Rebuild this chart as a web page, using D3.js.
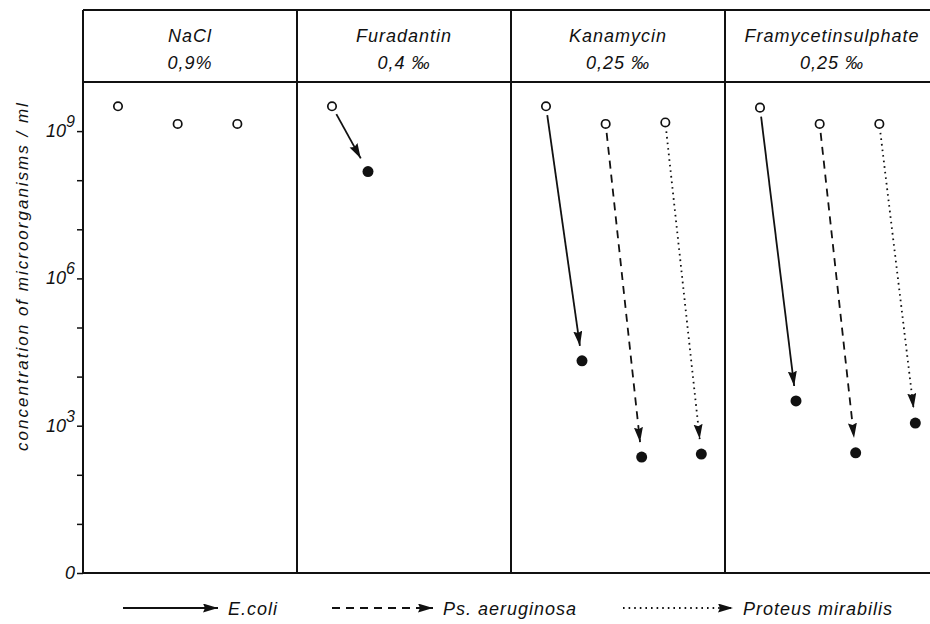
<!DOCTYPE html>
<html lang="en">
  <head>
    <meta charset="UTF-8">
    <title>Concentration of microorganisms</title>
    <style>
body {margin: 0; background: #fff;}
text {font-family: "Liberation Sans", Arial, sans-serif; font-style: italic; fill: #111;}
</style>
  </head>
  <body>
<div id="my_dataviz"></div>
<script src="https://d3js.org/d3.v7.min.js"></script>
<script>

// panels (substance + concentration)
var panels = ["NaCl", "Furadantin", "Kanamycin", "Framycetinsulphate"];
var doses = ["0,9%", "0,4 ‰", "0,25 ‰", "0,25 ‰"];
var organisms = ["E.coli", "Ps. aeruginosa", "Proteus mirabilis"];

// values per panel, before / after (null = not shown)
var ecoliBefore   = [3.2e9, 3.2e9, 3.2e9, 3.0e9];
var ecoliAfter    = [null, 1.5e8, 2.1e4, 3200];
var psBefore      = [1.4e9, null, 1.4e9, 1.4e9];
var psAfter       = [null, null, 230, 280];
var proteusBefore = [1.4e9, null, 1.5e9, 1.4e9];
var proteusAfter  = [null, null, 265, 1130];

// y ticks (decades) and which of them carry a label
var tickExponents = [0, 1, 2, 3, 4, 5, 6, 7, 8, 9];
var labelledExponents = [0, 3, 6, 9];

var W = 930, H = 624;
var frameTop = 10, headerBottom = 82, bottom = 573, left = 83;

var svg = d3.select("#my_dataviz")
  .append("svg")
    .attr("width", W)
    .attr("height", H);

var defs = svg.append("defs");
defs.append("marker")
    .attr("id", "arrow")
    .attr("markerUnits", "userSpaceOnUse")
    .attr("markerWidth", 16)
    .attr("markerHeight", 10)
    .attr("refX", 15)
    .attr("refY", 4.5)
    .attr("orient", "auto")
  .append("path")
    .attr("d", "M0,0 L15,4.5 L0,9 L2,4.5 z")
    .attr("fill", "#111");

// scales
var x = d3.scaleBand()
  .domain(panels)
  .range([left, left + 4 * 214]);
var xOrg = d3.scaleBand()
  .domain(organisms)
  .range([35, 214]);
var xTime = d3.scalePoint()
  .domain(["before", "after"])
  .range([0, 36]);
var y = d3.scaleLog()
  .domain([1, 1e10])
  .range([bottom, headerBottom]);

function px(panel, org, time) {
  return x(panel) + xOrg(org) + xTime(time);
}

var dash = {"E.coli": null, "Ps. aeruginosa": "8,6", "Proteus mirabilis": "1.6,4"};

// build point list
var series = [
  {org: "E.coli", before: ecoliBefore, after: ecoliAfter},
  {org: "Ps. aeruginosa", before: psBefore, after: psAfter},
  {org: "Proteus mirabilis", before: proteusBefore, after: proteusAfter}
];
var points = [];
series.forEach(function(s) {
  panels.forEach(function(p, i) {
    if (s.before[i] != null) points.push({panel: p, org: s.org, before: s.before[i], after: s.after[i]});
  });
});

// frame
var frame = svg.append("g")
  .attr("stroke", "#111")
  .attr("stroke-width", 2)
  .attr("fill", "none");
frame.append("line").attr("x1", left).attr("x2", W).attr("y1", frameTop).attr("y2", frameTop);
frame.append("line").attr("x1", left).attr("x2", W).attr("y1", headerBottom).attr("y2", headerBottom);
frame.append("line").attr("x1", left).attr("x2", W).attr("y1", bottom).attr("y2", bottom);
frame.selectAll(".div")
  .data(panels)
  .enter()
  .append("line")
    .attr("x1", function(d) { return x(d); })
    .attr("x2", function(d) { return x(d); })
    .attr("y1", frameTop)
    .attr("y2", bottom);

// headers
var head = svg.selectAll(".head")
  .data(panels)
  .enter()
  .append("g")
    .attr("transform", function(d) { return "translate(" + (x(d) + x.bandwidth() / 2) + ",0)"; });
head.append("text")
  .attr("y", 42)
  .attr("text-anchor", "middle")
  .attr("font-size", 18)
  .attr("letter-spacing", 1)
  .text(function(d) { return d; });
head.append("text")
  .attr("y", 69)
  .attr("text-anchor", "middle")
  .attr("font-size", 18)
  .attr("letter-spacing", 1)
  .text(function(d, i) { return doses[i]; });

// y axis
var yAxis = svg.append("g")
  .attr("transform", "translate(" + left + ",0)")
  .call(d3.axisLeft(y)
    .tickValues(tickExponents.map(function(e) { return Math.pow(10, e); }))
    .tickSize(6)
    .tickFormat(""));
yAxis.select(".domain").remove();
yAxis.selectAll(".tick line").attr("stroke", "#111").attr("stroke-width", 1.5);

var yLabels = svg.append("g").selectAll("text")
  .data(labelledExponents)
  .enter()
  .append("text")
    .attr("x", left - 8)
    .attr("y", function(d) { return y(Math.pow(10, d)) + 6; })
    .attr("text-anchor", "end")
    .attr("font-size", 18);
yLabels.each(function(d) {
  var t = d3.select(this);
  if (d === 0) {
    t.text("0");
  } else {
    t.append("tspan").text("10");
    t.append("tspan").attr("dy", -10).attr("font-size", 16).text(d);
  }
});

svg.append("text")
  .attr("transform", "translate(28,276) rotate(-90)")
  .attr("text-anchor", "middle")
  .attr("font-size", 17)
  .attr("letter-spacing", 2)
  .text("concentration of microorganisms / ml");

// arrows
var arrows = points.filter(function(d) { return d.after != null; });
svg.append("g").selectAll("line")
  .data(arrows)
  .enter()
  .append("line")
    .each(function(d) {
      var x0 = px(d.panel, d.org, "before"), y0 = y(d.before);
      var x1 = px(d.panel, d.org, "after"), y1 = y(d.after);
      var len = Math.sqrt((x1 - x0) * (x1 - x0) + (y1 - y0) * (y1 - y0));
      var ux = (x1 - x0) / len, uy = (y1 - y0) / len;
      d3.select(this)
        .attr("x1", x0 + ux * 9).attr("y1", y0 + uy * 9)
        .attr("x2", x1 - ux * 15).attr("y2", y1 - uy * 15);
    })
    .attr("stroke", "#111")
    .attr("stroke-width", 1.8)
    .attr("stroke-dasharray", function(d) { return dash[d.org]; })
    .attr("marker-end", "url(#arrow)");

// open circles (before)
svg.append("g").selectAll("circle")
  .data(points)
  .enter()
  .append("circle")
    .attr("cx", function(d) { return px(d.panel, d.org, "before"); })
    .attr("cy", function(d) { return y(d.before); })
    .attr("r", 4.2)
    .attr("fill", "#fff")
    .attr("stroke", "#111")
    .attr("stroke-width", 1.7);

// filled circles (after)
svg.append("g").selectAll("circle")
  .data(arrows)
  .enter()
  .append("circle")
    .attr("cx", function(d) { return px(d.panel, d.org, "after"); })
    .attr("cy", function(d) { return y(d.after); })
    .attr("r", 5.5)
    .attr("fill", "#111");

// legend
var legendX = d3.scaleOrdinal()
  .domain(organisms)
  .range([[123, 218], [332, 433], [623, 733]]);
var legend = svg.append("g").selectAll("g")
  .data(organisms)
  .enter()
  .append("g");
legend.append("line")
  .attr("x1", function(d) { return legendX(d)[0]; })
  .attr("x2", function(d) { return legendX(d)[1]; })
  .attr("y1", 608)
  .attr("y2", 608)
  .attr("stroke", "#111")
  .attr("stroke-width", 1.8)
  .attr("stroke-dasharray", function(d) { return dash[d]; })
  .attr("marker-end", "url(#arrow)");
legend.append("text")
  .attr("x", function(d) { return legendX(d)[1] + 10; })
  .attr("y", 615)
  .attr("font-size", 18)
  .attr("letter-spacing", 1)
  .text(function(d) { return d; });

</script>
  </body>
</html>
